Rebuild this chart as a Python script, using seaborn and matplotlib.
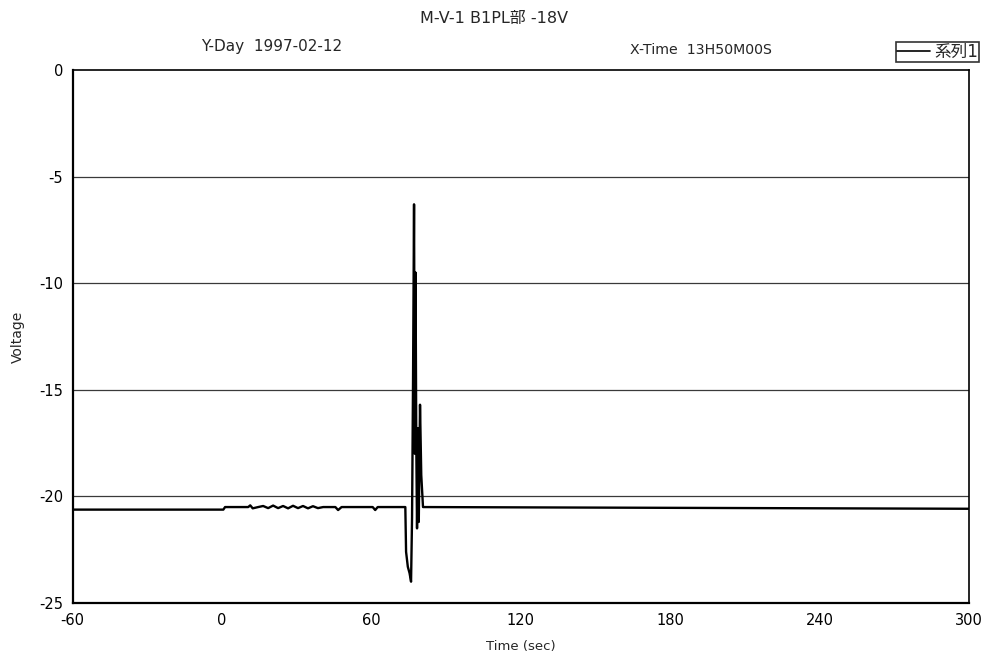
import matplotlib
matplotlib.use("Agg")
import matplotlib.pyplot as plt
import seaborn as sns
import pandas as pd
from matplotlib.lines import Line2D

# ---- data ----
time_sec = [-60, 0.5, 1.2, 10.5, 11.3, 12.3, 14.5, 16.5, 18.5, 20.5, 22.5, 24.5,
            26.5, 28.5, 30.5, 32.5, 34.5, 36.5, 38.5, 40.6, 45.5, 46.6, 48.0,
            60.5, 61.5, 62.5, 73.6, 73.9, 74.6, 75.3, 75.9, 76.3, 76.7, 77.1,
            77.4, 77.7, 78.0, 78.3, 78.7, 79.0, 79.5, 80.0, 80.7, 300]
voltage = [-20.62, -20.62, -20.5, -20.5, -20.42, -20.56, -20.5, -20.45, -20.55,
           -20.43, -20.55, -20.45, -20.56, -20.44, -20.55, -20.45, -20.56, -20.46,
           -20.55, -20.5, -20.5, -20.64, -20.5, -20.5, -20.64, -20.5, -20.5,
           -22.6, -23.3, -23.6, -24.0, -21.0, -14.5, -6.3, -18.0, -9.5, -17.5,
           -21.5, -16.8, -21.2, -15.7, -19.0, -20.5, -20.58]
series_name = "系列1"
title_text = "M-V-1 B1PL部 -18V"
yday_text = "Y-Day  1997-02-12"
xtime_text = "X-Time  13H50M00S"
x_ticks = [-60, 0, 60, 120, 180, 240, 300]
y_ticks = [0, -5, -10, -15, -20, -25]

df = pd.DataFrame({"Time (sec)": time_sec, "Voltage": voltage})

sns.set_style("white")
plt.rcParams["font.family"] = ["DejaVu Sans", "Noto Sans CJK JP"]
plt.rcParams["axes.unicode_minus"] = False

W, H = 984, 664
L, R, T, B = 72.7, 969, 70, 603
fig = plt.figure(figsize=(W / 100, H / 100), dpi=100)
ax = fig.add_axes([L / W, 1 - B / H, (R - L) / W, (B - T) / H])

for g in [-5, -10, -15, -20]:
    ax.axhline(g, color="#3a3a3a", lw=0.9, zorder=1)

sns.lineplot(data=df, x="Time (sec)", y="Voltage", estimator=None, sort=False,
             color="black", lw=1.7, ax=ax, zorder=3)

ax.set_xlim(-60, 300)
ax.set_ylim(-25, 0)
ax.set_xticks(x_ticks)
ax.set_yticks(y_ticks)
ax.tick_params(axis="both", labelsize=10.5, direction="in", length=4, width=1,
               colors="black", pad=7)
for s in ax.spines.values():
    s.set_color("black")
    s.set_linewidth(1.2)
ax.spines["left"].set_linewidth(1.6)
ax.spines["bottom"].set_linewidth(1.6)

ax.set_xlabel("Time (sec)", fontsize=9.5, labelpad=9)
ax.set_ylabel("Voltage", fontsize=10, labelpad=10)

fig.text(494 / W, 1 - 18 / H, title_text, ha="center", va="center", fontsize=11.5)
fig.text(272 / W, 1 - 47 / H, yday_text, ha="center", va="center", fontsize=11)
fig.text(701 / W, 1 - 50 / H, xtime_text, ha="center", va="center", fontsize=10.2)

handle = [Line2D([0], [0], color="black", lw=1.2)]
leg = fig.legend(handle, [series_name], loc="upper right",
                 bbox_to_anchor=(979 / W, 1 - 42 / H), fontsize=12,
                 frameon=True, fancybox=False, handlelength=2.0, handletextpad=0.25,
                 borderpad=0.05, borderaxespad=0)
leg.get_frame().set_edgecolor("black")
leg.get_frame().set_linewidth(1.2)

fig.savefig("out.png", dpi=100)
